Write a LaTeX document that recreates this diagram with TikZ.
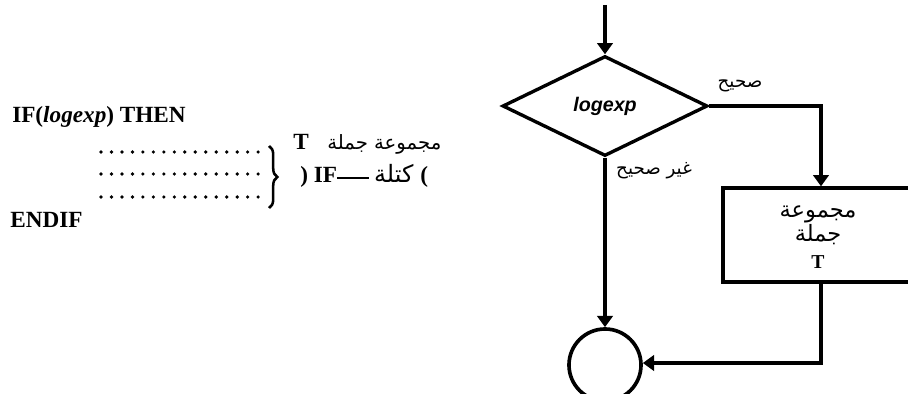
\documentclass[tikz,border=0pt]{standalone}
\usepackage{fontspec}
\setmainfont{Liberation Serif}
\newfontfamily\arabicfont[Script=Arabic]{DejaVu Sans}
\newfontfamily\labelfont{Liberation Sans}
\TeXXeTstate=1
\usetikzlibrary{arrows.meta,shapes.geometric,decorations.pathreplacing}

\begin{document}
\begin{tikzpicture}[x=0.025cm, y=-0.025cm, >={Triangle[length=8pt,width=11pt]},
  flow/.style={->, line width=2.8pt},
  arab/.style={font=\arabicfont\fontsize{13}{15}\selectfont},
  code/.style={font=\bfseries\fontsize{16.5}{18}\selectfont, inner sep=0pt}]
\useasboundingbox (0,0) rectangle (908,394);
\clip (0,0) rectangle (908,394);
% left: the IF block as written
\node[code, anchor=base west] (ifline) at (12,122) {IF(\textit{logexp}) THEN};
\node[code, anchor=base west] (endline) at (10,227) {ENDIF};
\foreach \y in {152,174,197} \draw[line width=2.6pt, line cap=round, dash pattern=on 0pt off 7.45pt] (101,\y) -- (260,\y);
\draw[line width=1.8pt, decorate, decoration={brace, amplitude=6pt}] (269,146) -- (269,208);
\node[code, anchor=base west] (tset) at (293,150)
  {T\hspace{0.8em}\hbox{\arabicfont\fontsize{14}{16}\selectfont\mdseries\beginR مجموعة جملة\endR}};
% lone brackets come out mirrored here, so they are written the other way round
\node[code, anchor=base west] (tblock) at (300,182)
  {)\hspace{0.25em}IF\rule[0.3ex]{1.4em}{1.6pt}\hspace{0.2em}\hbox{\arabicfont\fontsize{17}{19}\selectfont\mdseries\beginR كتلة\endR}\hspace{0.3em}(};
% right: the flowchart
\coordinate (start) at (605,5);
\node[diamond, draw, line width=2.4pt, minimum width=5.125cm, minimum height=2.5cm, inner sep=0pt] (cond) at (605,106) {};
\node[font=\labelfont\bfseries\itshape\fontsize{14}{16}\selectfont] (condtext) at (605,106) {logexp};
\node[draw, line width=2.4pt, minimum width=4.85cm, minimum height=2.35cm, inner sep=0pt] (body) at (820,235) {};
\node[font=\bfseries\fontsize{14}{16}\selectfont, align=center] (bodytext) at (818,237)
  {\hbox{\arabicfont\mdseries\fontsize{16}{18}\selectfont\beginR مجموعة\endR}\\[0pt]
   \hbox{\arabicfont\mdseries\fontsize{16}{18}\selectfont\beginR جملة\endR}\\[3pt]T};
\node[circle, draw, line width=2.6pt, minimum size=1.8cm, inner sep=0pt] (join) at (605,365) {};
\coordinate (corner) at (821,106);
\coordinate (back) at (821,363);
\draw[flow] (start) -- (cond.north);
\draw[flow] (cond.east) -- (corner) -- (body.north -| corner);
\draw[flow] (cond.south) -- (join.north);
\draw[flow] (body.south -| corner) -- (back) -- (back -| join.east);
\node[arab] (yes) at (740,86) {\beginR صحيح\endR};
\node[arab] (no) at (654,171) {\beginR غير صحيح\endR};
\end{tikzpicture}
\end{document}
